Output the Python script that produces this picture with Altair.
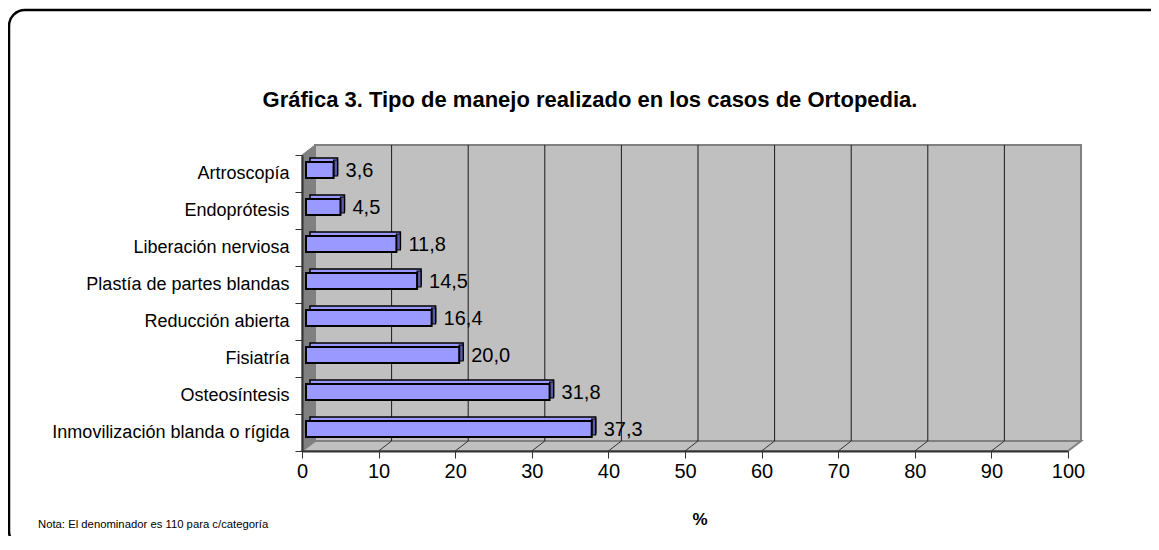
import altair as alt
import pandas as pd

categories = ["Artroscopía", "Endoprótesis", "Liberación nerviosa",
              "Plastía de partes blandas", "Reducción abierta", "Fisiatría",
              "Osteosíntesis", "Inmovilización blanda o rígida"]
values = [3.6, 4.5, 11.8, 14.5, 16.4, 20.0, 31.8, 37.3]
value_labels = ["3,6", "4,5", "11,8", "14,5", "16,4", "20,0", "31,8", "37,3"]
x_ticks = [0, 10, 20, 30, 40, 50, 60, 70, 80, 90, 100]
title_text = "Gráfica 3. Tipo de manejo realizado en los casos de Ortopedia."
note_text = "Nota: El denominador es 110 para c/categoría"
axis_title = "%"

# layout (pixels) of the pseudo-3D frame
W, H = 766, 296
DX, DY = 13, 10
BAR_H = 16
FONT = "Liberation Sans"

bars = pd.DataFrame({"cat": categories, "v": values, "lab": value_labels})
inner_ticks = pd.DataFrame({"t": x_ticks[1:-1]})
one = pd.DataFrame({"a": [0]})

xs = alt.Scale(domain=[0, 100], nice=False, zero=True)
ys = alt.Scale(domain=categories, paddingInner=0, paddingOuter=0)

x_axis = alt.Axis(values=x_ticks, title=None, grid=False, labelFontSize=20, labelFont=FONT,
                  labelColor="black", tickColor="#333333", tickSize=7, tickWidth=1,
                  domainColor="#333333", domainWidth=2, labelPadding=3, zindex=1,
                  labelFlush=False)
y_axis = alt.Axis(title=None, grid=False, labelFontSize=18, labelFont=FONT, labelColor="black",
                  tickBand="extent", tickSize=7, tickColor="#333333", domainColor="#333333",
                  domainWidth=2, labelPadding=6, zindex=1, labelLimit=400)

# --- decorative walls (pixel geometry) ---
back_wall = alt.Chart(one).mark_rect(fill="#C0C0C0", stroke="#808080", strokeWidth=2).encode(
    x=alt.value(DX), x2=alt.value(W + DX), y=alt.value(-DY), y2=alt.value(H - DY))

side_df = pd.DataFrame({"px": [0, DX], "py": [0, -DY], "py2": [H, H - DY]})
side_wall = alt.Chart(side_df).mark_area(orient="vertical", fill="#808080", stroke="#808080", strokeWidth=1).encode(
    x=alt.X("px:Q", scale=None, axis=None),
    y=alt.Y("py:Q", scale=None, axis=None),
    y2="py2:Q")

floor_df = pd.DataFrame({"py": [H, H - DY], "px": [0, DX], "px2": [W, W + DX]})
floor = alt.Chart(floor_df).mark_area(orient="horizontal", fill="#C0C0C0", stroke="#808080", strokeWidth=2).encode(
    y=alt.Y("py:Q", scale=None, axis=None),
    x=alt.X("px:Q", scale=None, axis=None),
    x2="px2:Q")

walls = alt.layer(back_wall, side_wall, floor)

# --- data layers ---
grid = alt.Chart(inner_ticks).mark_rule(color="#1a1a1a", strokeWidth=1, xOffset=DX).encode(
    x=alt.X("t:Q", scale=xs, axis=x_axis),
    y=alt.value(-DY), y2=alt.value(H - DY))

floor_lines = alt.Chart(inner_ticks).mark_rule(color="#333333", strokeWidth=1, x2Offset=DX).encode(
    x=alt.X("t:Q", scale=xs, axis=x_axis), x2="t:Q",
    y=alt.value(H), y2=alt.value(H - DY))

top_face = alt.Chart(bars).mark_bar(fill="#9999FF", stroke="black", strokeWidth=1.5, height=BAR_H,
                                    xOffset=8, x2Offset=8, yOffset=-7.5, y2Offset=-7.5).encode(
    x=alt.X("v:Q", scale=xs, axis=x_axis),
    y=alt.Y("cat:N", scale=ys, axis=y_axis))

right_face = alt.Chart(bars).mark_bar(fill="#5A5AB0", stroke="black", strokeWidth=1.2, height=BAR_H,
                                      xOffset=4, x2Offset=8, yOffset=-5.5, y2Offset=-5.5).encode(
    x=alt.X("v:Q", scale=xs, axis=x_axis), x2="v:Q",
    y=alt.Y("cat:N", scale=ys, axis=y_axis))

front_face = alt.Chart(bars).mark_bar(fill="#9999FF", stroke="black", strokeWidth=2, height=BAR_H,
                                      xOffset=4, x2Offset=4, yOffset=-3.5, y2Offset=-3.5).encode(
    x=alt.X("v:Q", scale=xs, axis=x_axis),
    y=alt.Y("cat:N", scale=ys, axis=y_axis))

labels = alt.Chart(bars).mark_text(align="left", baseline="middle", dx=16, dy=-3,
                                   fontSize=20, font=FONT, color="black").encode(
    x=alt.X("v:Q", scale=xs, axis=x_axis),
    y=alt.Y("cat:N", scale=ys, axis=y_axis),
    text="lab:N")

data_layers = alt.layer(grid, floor_lines, top_face, right_face, front_face, labels)

# --- texts and frame ---
title = alt.Chart(one).mark_text(text=title_text, fontSize=22, fontWeight="bold", font=FONT,
                                 align="center", baseline="middle", color="black").encode(
    x=alt.value(288), y=alt.value(-55))
note = alt.Chart(one).mark_text(text=note_text, fontSize=11.3, font=FONT, align="left",
                                baseline="middle", color="black").encode(
    x=alt.value(-264), y=alt.value(370))
pct = alt.Chart(one).mark_text(text=axis_title, fontSize=17, fontWeight="bold", font=FONT,
                               align="center", baseline="middle", color="black").encode(
    x=alt.value(398), y=alt.value(365))
frame = alt.Chart(one).mark_rect(fill="white", fillOpacity=0, stroke="black", strokeWidth=2.5,
                                 cornerRadius=16).encode(
    x=alt.value(-293), x2=alt.value(880), y=alt.value(-145), y2=alt.value(392))

chart = alt.layer(walls, data_layers, title, note, pct, frame).resolve_scale(
    x="independent", y="independent"
).properties(
    width=W, height=H,
    autosize=alt.AutoSizeParams(type="none"),
    padding={"left": 294, "top": 147, "right": 83, "bottom": 85},
).configure_view(stroke=None)

chart.save("out.html", embed_options={"renderer": "svg", "actions": False})
